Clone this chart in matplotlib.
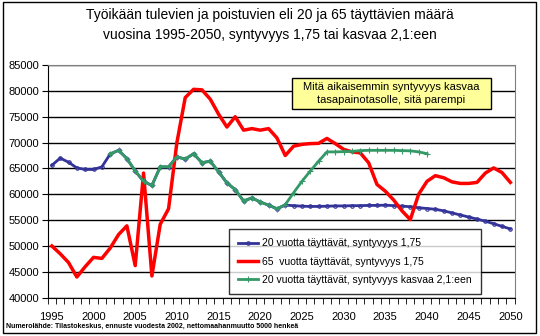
import matplotlib
matplotlib.use("Agg")
import matplotlib.pyplot as plt
import matplotlib.patches as patches

plt.rcParams['font.family'] = ['Liberation Sans', 'DejaVu Sans']

# data
years = list(range(1995, 2051))

blue_20 = [65600, 67000, 66200, 65100, 64800, 64800, 65300, 67800, 68500, 66900,
           64500, 62500, 61700, 65300, 65300, 67250, 66800, 67850, 66100, 66400,
           64350, 62200, 60900, 58700, 59300, 58500, 57900, 57200, 57900, 57800,
           57700, 57650, 57650, 57700, 57750, 57750, 57800, 57800, 57850, 57850,
           57900, 57800, 57700, 57600, 57400, 57250, 57100, 56800, 56400, 56000,
           55600, 55200, 54800, 54300, 53800, 53300]

red_65 = [50000, 48500, 46800, 44000, 46000, 47800, 47600, 49600, 52200, 53900,
          46200, 64100, 44200, 54200, 57200, 70000, 78700, 80300, 80200, 78400,
          75500, 73000, 75000, 72400, 72700, 72400, 72700, 70900, 67500, 69300,
          69650, 69800, 69850, 70800, 69800, 68700, 68200, 68000, 66100, 61900,
          60600, 58900, 56800, 55100, 60000, 62500, 63600, 63200, 62400, 62100,
          62100, 62300, 64100, 65100, 64200, 62300]

green_years = list(range(2002, 2041))
green_20 = [67800, 68500, 66900, 64500, 62500, 61700, 65300, 65300, 67250, 66800,
            67850, 66100, 66400, 64350, 62200, 60900, 58700, 59300, 58500, 57900,
            57200, 58000, 60300, 62500, 64500, 66400, 68200, 68200, 68250, 68300,
            68450, 68500, 68500, 68500, 68500, 68450, 68400, 68200, 67850]

labels = ["20 vuotta täyttävät, syntyvyys 1,75",
          "65  vuotta täyttävät, syntyvyys 1,75",
          "20 vuotta täyttävät, syntyvyys kasvaa 2,1:een"]

fig = plt.figure(figsize=(5.4, 3.36), dpi=100)
ax = fig.add_axes([0.0883, 0.114, 0.8645, 0.6925])

ax.plot(years, blue_20, color='#333399', lw=2, marker='o', ms=2.5,
        mfc='none', mec='#333399', mew=0.8, label=labels[0], zorder=3)
ax.plot(years, red_65, color='#ff0000', lw=2.5, solid_joinstyle='round',
        label=labels[1], zorder=4)
ax.plot(green_years, green_20, color='#339966', lw=2, marker='+', ms=4,
        mew=0.8, label=labels[2], zorder=5)

ax.set_xlim(1994.5, 2050.5)
ax.set_ylim(40000, 85000)
ax.set_yticks(range(40000, 85001, 5000))
ax.set_xticks(range(1995, 2051, 5))
ax.set_xticks([y + 0.5 for y in range(1994, 2051)], minor=True)
ax.tick_params(axis='x', which='major', length=0, labelsize=8, pad=10)
ax.tick_params(axis='x', which='minor', length=4, direction='out')
ax.tick_params(axis='y', length=4, direction='out', labelsize=8, pad=2)

ax.grid(axis='y', color='black', lw=1)
ax.set_axisbelow(True)
ax.spines['top'].set_color('#808080')
ax.spines['right'].set_color('#808080')

leg = ax.legend(loc='upper left', bbox_to_anchor=(0.3884, 0.2952), fontsize=7.5,
                frameon=True, fancybox=False, edgecolor='black', borderaxespad=0,
                handlelength=1.9, handletextpad=0.4, labelspacing=0.8,
                borderpad=0.9)
leg.get_frame().set_linewidth(1)
leg.set_zorder(7)

# yellow note box
ax.add_patch(patches.Rectangle((0.5234, 0.8096), 0.4263, 0.1332, transform=ax.transAxes,
                               fc='#ffff99', ec='black', lw=1, zorder=6))
ax.text(0.7365, 0.8775, "Mitä aikaisemmin syntyvyys kasvaa\ntasapainotasolle, sitä parempi",
        transform=ax.transAxes, ha='center', va='center', fontsize=8,
        linespacing=1.35, zorder=7)

fig.text(0.5, 0.9256, "Työikään tulevien ja poistuvien eli 20 ja 65 täyttävien määrä\n"
         "vuosina 1995-2050, syntyvyys 1,75 tai kasvaa 2,1:een",
         ha='center', va='center', fontsize=10, linespacing=1.5)

fig.text(0.012, 0.03, "Numerolähde: Tilastokeskus, ennuste vuodesta 2002, nettomaahanmuutto 5000 henkeä",
         fontsize=5, fontweight='bold', ha='left', va='center')

fig.patches.append(patches.Rectangle((0.005, 0.01), 0.988, 0.985, transform=fig.transFigure,
                                     fill=False, ec='black', lw=1))

fig.savefig("out.png", dpi=100)
